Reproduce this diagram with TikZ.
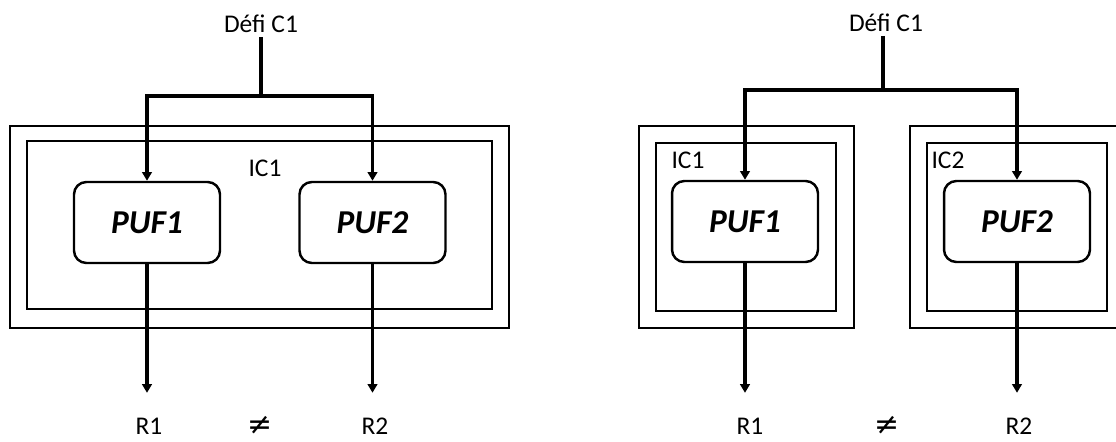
\documentclass[tikz,border=0pt]{standalone}
\usepackage{fontspec}
\setmainfont{Carlito}
\newfontfamily\symfont{DejaVu Sans}
\usetikzlibrary{arrows.meta}
\begin{document}
\begin{tikzpicture}[x=0.02cm, y=-0.02cm,
        puf/.style={draw, rounded corners=7pt, line width=1.4pt, minimum width=2.92cm, minimum height=1.62cm, font=\fontsize{19}{22}\selectfont\bfseries\itshape},
        lbl/.style={font=\fontsize{14.5}{17}\selectfont, inner sep=2pt},
        neq/.style={font=\fontsize{17}{20}\selectfont\symfont, inner sep=1pt},
        chip/.style={draw, line width=0.9pt},
        wire/.style={line width=1.9pt},
        arr/.style={-{Triangle[width=5.5pt,length=5pt]}, line width=1.9pt}]

    \useasboundingbox (0,0) rectangle (1116,441);

    % un seul circuit IC1
    \draw[chip] (10,126) rectangle (509,328);
    \draw[chip] (27,141) rectangle (492,309);
    \node[lbl] (icA)   at (265,168) {IC1};
    \node[lbl] (defiA) at (261,24)  {Défi C1};
    \coordinate (splitA) at (261,96);
    \node[puf] (pufA1) at (147,222.5) {PUF1};
    \node[puf] (pufA2) at (372.5,222.5) {PUF2};
    \node[lbl] (rA1)   at (149,426) {R1};
    \node[lbl] (rA2)   at (375,426) {R2};
    \node[neq] (neqA)  at (260,425) {≠};

    \draw[wire] (defiA) -- (splitA);
    \draw[arr] (splitA) -| (pufA1);
    \draw[arr] (splitA) -| (pufA2);
    \draw[arr, shorten >=12pt] (pufA1.south) -- (pufA1.south |- rA1.north);
    \draw[arr, shorten >=12pt] (pufA2.south) -- (pufA2.south |- rA2.north);

    % deux circuits IC1 et IC2
    \draw[chip] (639,126) rectangle (854,328);
    \draw[chip] (656,143) rectangle (836,311);
    \draw[chip] (910,126) rectangle (1130,328);
    \draw[chip] (927,143) rectangle (1107,311);
    \node[lbl] (icB1)  at (688,160) {IC1};
    \node[lbl] (icB2)  at (948,160) {IC2};
    \node[lbl] (defiB) at (886,23)  {Défi C1};
    \coordinate (splitB) at (883,90);
    \node[puf] (pufB1) at (745,221.5) {PUF1};
    \node[puf] (pufB2) at (1017,221.5) {PUF2};
    \node[lbl] (rB1)   at (750,426) {R1};
    \node[lbl] (rB2)   at (1019,426) {R2};
    \node[neq] (neqB)  at (887,425) {≠};

    \draw[wire] (defiB.south -| splitB) -- (splitB);
    \draw[arr] (splitB) -| (pufB1);
    \draw[arr] (splitB) -| (pufB2);
    \draw[arr, shorten >=12pt] (pufB1.south) -- (pufB1.south |- rB1.north);
    \draw[arr, shorten >=12pt] (pufB2.south) -- (pufB2.south |- rB2.north);

\end{tikzpicture}
\end{document}
